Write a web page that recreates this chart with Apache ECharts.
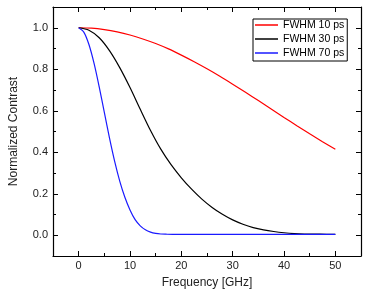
<!DOCTYPE html>
<html lang="en">
<head>
    <meta charset="UTF-8">
    <title>Normalized Contrast</title>
</head>
<body style="margin: 0">
    <div id="main" style="width:368px;height:298px"></div>
    <script src="https://cdn.jsdelivr.net/npm/echarts@6/dist/echarts.min.js"></script>
    <script type="text/javascript">
        // values
        var freqRed = [0, 2.5, 5, 7.5, 10, 12.5, 15, 17.5, 20, 22.5, 25, 27.5, 30, 32.5, 35, 37.5, 40, 42.5, 45, 47.5, 50];
        var contrastRed = [1.0, 0.998, 0.991, 0.980, 0.965, 0.946, 0.924, 0.898, 0.868, 0.836, 0.802, 0.766, 0.728, 0.689, 0.649, 0.609, 0.568, 0.528, 0.489, 0.451, 0.414];

        var freqBlack = [0, 2, 4, 6, 8, 10, 12, 14, 16, 18, 20, 22, 24, 26, 28, 30, 32, 34, 36, 38, 40, 42, 44, 47, 50];
        var contrastBlack = [1.0, 0.988, 0.952, 0.89, 0.808, 0.712, 0.607, 0.505, 0.415, 0.340, 0.277, 0.222, 0.174, 0.134, 0.101, 0.074, 0.053, 0.037, 0.026, 0.018, 0.012, 0.008, 0.006, 0.005, 0.004];

        var freqBlue = [0, 1, 2, 3, 4, 5, 6, 7, 8, 9, 10, 11, 12, 13, 14, 15, 16, 17, 19, 25, 30, 40, 50];
        var contrastBlue = [1.0, 0.979, 0.919, 0.828, 0.715, 0.592, 0.469, 0.357, 0.261, 0.183, 0.122, 0.075, 0.045, 0.026, 0.015, 0.009, 0.006, 0.005, 0.004, 0.004, 0.004, 0.004, 0.004];

        var seriesNames = ['FWHM 10 ps', 'FWHM 30 ps', 'FWHM 70 ps'];
        var xMajor = [0, 10, 20, 30, 40, 50];
        var yMajor = [0, 0.2, 0.4, 0.6, 0.8, 1.0];

        function pairs(xs, ys) {
            return xs.map(function (x, i) { return [x, ys[i]]; });
        }

        var font = 'Liberation Sans, Arial, sans-serif';
        var frame = { show: true, onZero: false, lineStyle: { color: '#000', width: 1.2 } };

        function xAx(pos, major, withLabel) {
            return {
                type: 'value', position: pos, min: -5, max: 55,
                interval: major ? undefined : 5,
                axisLine: major ? frame : { show: false, onZero: false },
                axisTick: major ? { inside: true, length: 5, customValues: xMajor, lineStyle: { color: '#000' } }
                                : { inside: true, length: 3, lineStyle: { color: '#000' } },
                axisLabel: withLabel ? { customValues: xMajor, margin: 4, color: '#222', fontSize: 11, fontFamily: font } : { show: false },
                splitLine: { show: false },
                name: withLabel ? 'Frequency [GHz]' : '',
                nameLocation: 'middle', nameGap: 21,
                nameTextStyle: { fontSize: 12, color: '#222', fontFamily: font }
            };
        }

        function yAx(pos, major, withLabel) {
            return {
                type: 'value', position: pos, min: -0.1, max: 1.1,
                interval: major ? undefined : 0.1,
                axisLine: major ? frame : { show: false, onZero: false },
                axisTick: major ? { inside: true, length: 5, customValues: yMajor, lineStyle: { color: '#000' } }
                                : { inside: true, length: 3, lineStyle: { color: '#000' } },
                axisLabel: withLabel ? {
                    customValues: yMajor, margin: 5, color: '#222', fontSize: 11, fontFamily: font,
                    formatter: function (v) { return v.toFixed(1); }
                } : { show: false },
                splitLine: { show: false },
                name: withLabel ? 'Normalized Contrast' : '',
                nameLocation: 'middle', nameGap: 33,
                nameTextStyle: { fontSize: 12, color: '#222', fontFamily: font }
            };
        }

        var myChart = echarts.init(document.getElementById('main'));
        var option = {
            animation: false,
            grid: { left: 51, right: 7, top: 7, bottom: 42 },
            legend: {
                data: seriesNames,
                orient: 'vertical',
                left: 253, top: 19,
                icon: 'rect', itemWidth: 23, itemHeight: 1.5, itemGap: 2,
                padding: [0, 3, 2, 2],
                borderColor: '#000', borderWidth: 1,
                textStyle: { fontSize: 10.5, lineHeight: 12, color: '#000', fontFamily: font }
            },
            xAxis: [xAx('bottom', true, true), xAx('bottom', false, false), xAx('top', true, false), xAx('top', false, false)],
            yAxis: [yAx('left', true, true), yAx('left', false, false), yAx('right', true, false), yAx('right', false, false)],
            series: [
                { name: seriesNames[0], type: 'line', data: pairs(freqRed, contrastRed), color: '#ff0000' },
                { name: seriesNames[1], type: 'line', data: pairs(freqBlack, contrastBlack), color: '#000000' },
                { name: seriesNames[2], type: 'line', data: pairs(freqBlue, contrastBlue), color: '#1a1aff' }
            ].map(function (s) {
                s.showSymbol = false;
                s.smooth = 0.3;
                s.lineStyle = { width: 1.2 };
                return s;
            })
        };

        myChart.setOption(option);
    </script>
</body>
</html>
